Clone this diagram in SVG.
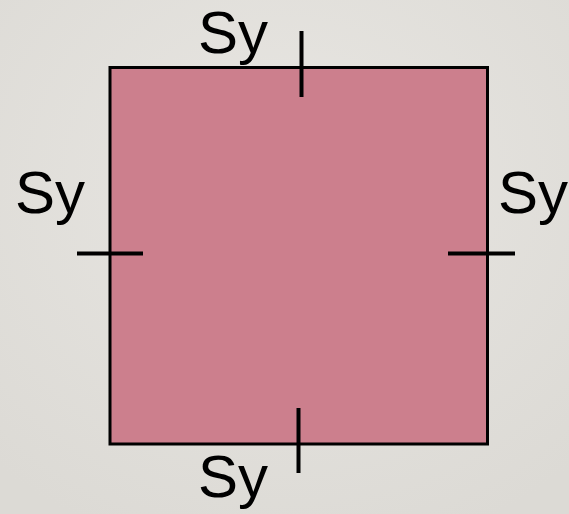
<svg xmlns="http://www.w3.org/2000/svg" width="569" height="514" viewBox="0 0 569 514">
<defs>
<radialGradient id="bg" cx="50%" cy="35%" r="75%">
<stop offset="0" stop-color="#e8e6e2"/>
<stop offset="1" stop-color="#dcdad5"/>
</radialGradient>
<style>
.lbl{font-family:"Liberation Sans",Arial,sans-serif;font-size:60px;fill:#000}
.tick{stroke:#000;stroke-width:4;fill:none}
</style>
</defs>
<rect width="569" height="514" fill="url(#bg)"/>
<g id="square">
<rect x="110" y="67.5" width="377.5" height="376.5" fill="#cc7f8d" stroke="#000" stroke-width="3"/>
</g>
<g id="connectors">
<line class="tick" x1="301.5" y1="31" x2="301.5" y2="97"/>
<line class="tick" x1="77" y1="253.5" x2="143" y2="253.5"/>
<line class="tick" x1="448" y1="253.5" x2="515" y2="253.5"/>
<line class="tick" x1="298.5" y1="408" x2="298.5" y2="473"/>
</g>
<g id="label-top"><text class="lbl" x="198" y="53">Sy</text></g>
<g id="label-left"><text class="lbl" x="15" y="213">Sy</text></g>
<g id="label-right"><text class="lbl" x="498" y="213">Sy</text></g>
<g id="label-bottom"><text class="lbl" x="198" y="497">Sy</text></g>
</svg>
